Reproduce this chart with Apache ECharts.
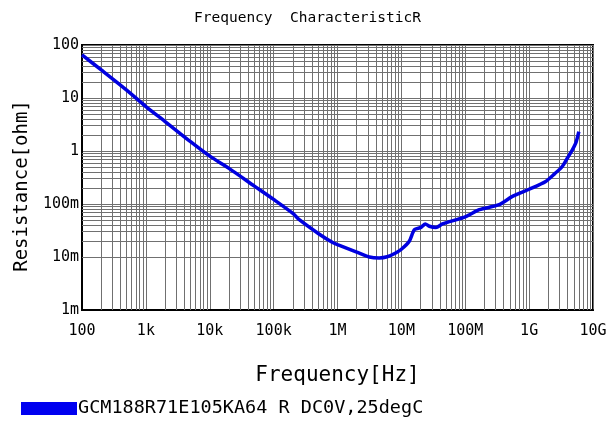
<!DOCTYPE html>
<html>
<head>
<meta charset="utf-8">
<script src="https://cdn.jsdelivr.net/npm/echarts@6/dist/echarts.min.js"></script>
<style>
html,body{margin:0;padding:0;background:#fff;}
#chart{width:613px;height:431px;}
</style>
</head>
<body>
<div id="chart"></div>
<script>
// Data
var freqHz = [100, 200, 500, 1e3, 2e3, 5e3, 1e4, 2e4, 5e4, 1e5, 2e5, 2.55e5, 5e5, 8.4e5, 1e6, 2e6, 3.16e6, 4.5e6, 6e6, 8e6, 1e7, 1.33e7, 1.6e7, 2.03e7, 2.37e7, 2.74e7, 3.48e7, 4.4e7, 1.02e8, 1.66e8, 3.39e8, 5.48e8, 1e9, 1.82e9, 2.5e9, 3.3e9, 4e9, 4.75e9, 5.4e9, 6e9];
var resOhm = [65, 33.9, 14.1, 6.9, 3.6, 1.5, 0.8, 0.47, 0.218, 0.122, 0.0665, 0.05, 0.0278, 0.0187, 0.0171, 0.0124, 0.0100, 0.0096, 0.0101, 0.0118, 0.014, 0.0198, 0.0328, 0.0362, 0.042, 0.038, 0.0362, 0.042, 0.058, 0.078, 0.097, 0.139, 0.19, 0.267, 0.37, 0.51, 0.745, 1.05, 1.44, 2.33];
var xTickLabels = ['100', '1k', '10k', '100k', '1M', '10M', '100M', '1G', '10G'];
var yTickLabels = ['1m', '10m', '100m', '1', '10', '100'];
var seriesName = 'GCM188R71E105KA64 R DC0V,25degC';

var FONT = 'DejaVu Sans Mono';
var GRID_COLOR = '#707070';

// minor grid line positions (2..9 within each decade)
var minorX = [], minorY = [];
for (var e = 2; e < 10; e++) for (var k = 2; k < 10; k++) minorX.push({xAxis: k * Math.pow(10, e)});
for (var e2 = -3; e2 < 2; e2++) for (var k2 = 2; k2 < 10; k2++) minorY.push({yAxis: +(k2 * Math.pow(10, e2)).toPrecision(3)});

var data = freqHz.map(function (f, i) { return [f, resOhm[i]]; });

var chart = echarts.init(document.getElementById('chart'), null, {renderer: 'canvas'});
chart.setOption({
  animation: false,
  backgroundColor: '#fff',
  title: {
    text: 'Frequency  CharacteristicR',
    left: 189,
    top: 6,
    textStyle: {fontFamily: FONT, fontSize: 14.5, fontWeight: 'normal', color: '#000'}
  },
  legend: {
    data: [seriesName],
    left: 16,
    top: 394,
    icon: 'rect',
    itemWidth: 56,
    itemHeight: 13,
    itemGap: 4,
    textStyle: {fontFamily: FONT, fontSize: 18.5, color: '#000', padding: [0, 0, 0, -4]}
  },
  grid: {
    left: 82, right: 20, top: 45, bottom: 121,
    show: true, borderColor: '#000', borderWidth: 2, backgroundColor: 'transparent'
  },
  xAxis: {
    type: 'log', logBase: 10, min: 100, max: 1e10, splitNumber: 8,
    name: 'Frequency[Hz]', nameLocation: 'middle', nameGap: 55,
    nameTextStyle: {fontFamily: FONT, fontSize: 21, color: '#000'},
    axisLine: {show: true, lineStyle: {color: '#000', width: 2}},
    axisTick: {show: false},
    axisLabel: {
      margin: 14, fontFamily: FONT, fontSize: 15, color: '#000',
      showMinLabel: true, showMaxLabel: true,
      formatter: function (v) { return xTickLabels[Math.round(Math.log10(v)) - 2] || ''; }
    },
    splitLine: {show: true, lineStyle: {color: GRID_COLOR, width: 1}}
  },
  yAxis: {
    type: 'log', logBase: 10, min: 0.001, max: 100, splitNumber: 5,
    name: 'Resistance[ohm]', nameLocation: 'middle', nameGap: 46,
    nameTextStyle: {fontFamily: FONT, fontSize: 19, color: '#000', padding: [0, 17, 0, 0]},
    axisLine: {show: true, lineStyle: {color: '#000', width: 2}},
    axisTick: {show: false},
    axisLabel: {
      margin: 3, fontFamily: FONT, fontSize: 15, color: '#000',
      showMinLabel: true, showMaxLabel: true,
      formatter: function (v) { return yTickLabels[Math.round(Math.log10(v)) + 3] || ''; }
    },
    splitLine: {show: true, lineStyle: {color: GRID_COLOR, width: 1}}
  },
  series: [
    {
      name: 'grid-minor',
      type: 'line',
      z: 1,
      data: [[100, 1]],
      showSymbol: false,
      symbol: 'none',
      lineStyle: {opacity: 0},
      silent: true,
      tooltip: {show: false},
      markLine: {
        silent: true,
        symbol: ['none', 'none'],
        label: {show: false},
        animation: false,
        lineStyle: {color: GRID_COLOR, width: 1, type: 'solid'},
        emphasis: {disabled: true},
        data: minorX.concat(minorY)
      }
    },
    {
      name: seriesName,
      type: 'line',
      z: 5,
      data: data,
      smooth: 0.25,
      showSymbol: false,
      symbol: 'none',
      color: '#0000f0',
      lineStyle: {color: '#0000e0', width: 3.5}
    }
  ]
});
</script>
</body>
</html>
